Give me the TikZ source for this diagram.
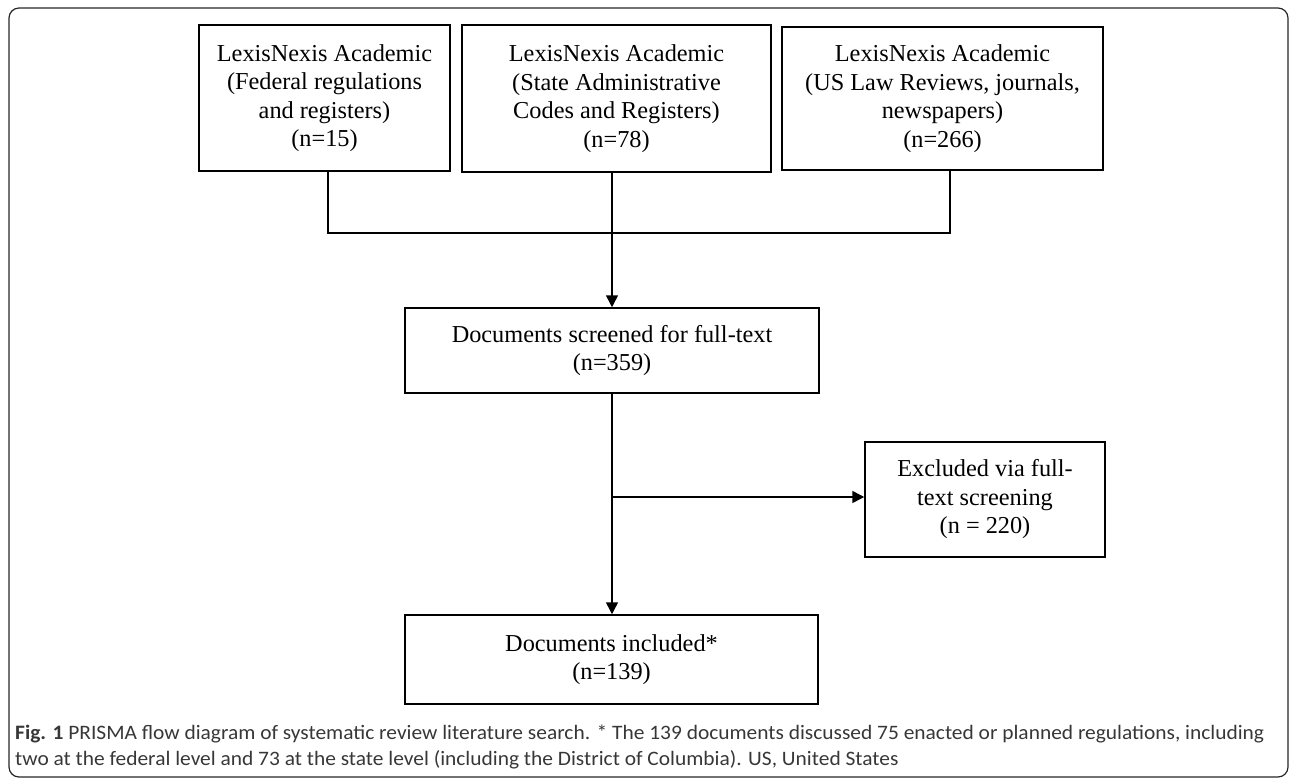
\documentclass[tikz,border=0pt]{standalone}
\usepackage{fontspec}
\setmainfont{Liberation Serif}
\newfontfamily\capfont{Carlito}
\usetikzlibrary{arrows.meta}
\definecolor{capgray}{RGB}{55,55,55}
\newsavebox\caponebox
\begin{document}
\sbox\caponebox{\color{capgray}\capfont\fontsize{20.5}{24}\selectfont\textbf{Fig. 1} PRISMA flow diagram of systematic review literature search. * The 139 documents discussed 75 enacted or planned regulations, including}%
\pgfmathsetmacro\capsc{1249/\the\wd\caponebox}%
\begin{tikzpicture}[x=1pt,y=-1pt,
  box/.style={draw, line width=1.5pt, inner sep=0pt, align=center,
    font=\fontsize{24.3}{28.5}\selectfont},
  conn/.style={line width=1.5pt},
  arr/.style={conn, -{Triangle[width=12pt,length=12pt]}},
  captext/.style={anchor=base west, inner sep=0pt, text=capgray}]
\useasboundingbox (0,0) rectangle (1290,778);
\draw[black!85, line width=1.2pt, rounded corners=10pt] (9,8) rectangle (1288,777);

\node[box, minimum width=251pt, minimum height=146pt] (b1) at (324.5,98)
  {LexisNexis Academic\\(Federal regulations\\and registers)\\(n=15)};
\node[box, minimum width=309pt, minimum height=147pt] (b2) at (616.5,98.5)
  {LexisNexis Academic\\(State Administrative\\Codes and Registers)\\(n=78)};
\node[box, minimum width=321pt, minimum height=143pt] (b3) at (942.5,98.5)
  {LexisNexis Academic\\(US Law Reviews, journals,\\newspapers)\\(n=266)};
\node[box, minimum width=414pt, minimum height=85pt] (b4) at (612,350.5)
  {Documents screened for full-text\\(n=359)};
\node[box, minimum width=240pt, minimum height=115pt] (ex) at (985,499.5)
  {Excluded via full-\\text screening\\(n = 220)};
\node[box, minimum width=413pt, minimum height=89pt] (b5) at (611.5,659.5)
  {Documents included*\\(n=139)};

\coordinate (l) at (328,233);
\coordinate (j) at (612,233);
\coordinate (r) at (950,233);
\coordinate (k) at (612,497);

\draw[conn] (l |- b1.south) -- (l) -- (r) -- (r |- b3.south);
\draw[conn] (j |- b2.south) -- (j);
\draw[arr] (j) -- (j |- b4.north);
\draw[arr] (b4.south -| j) -- (j |- b5.north);
\draw[arr] (k) -- (k -| ex.west);

\node[captext] (cap1) at (15,739) {\scalebox{\capsc}[1]{\usebox\caponebox}};
\node[captext] (cap2) at (15,765) {\scalebox{\capsc}[1]{\capfont\fontsize{20.5}{24}\selectfont two at the federal level and 73 at the state level (including the District of Columbia). US, United States}};
\end{tikzpicture}
\end{document}
